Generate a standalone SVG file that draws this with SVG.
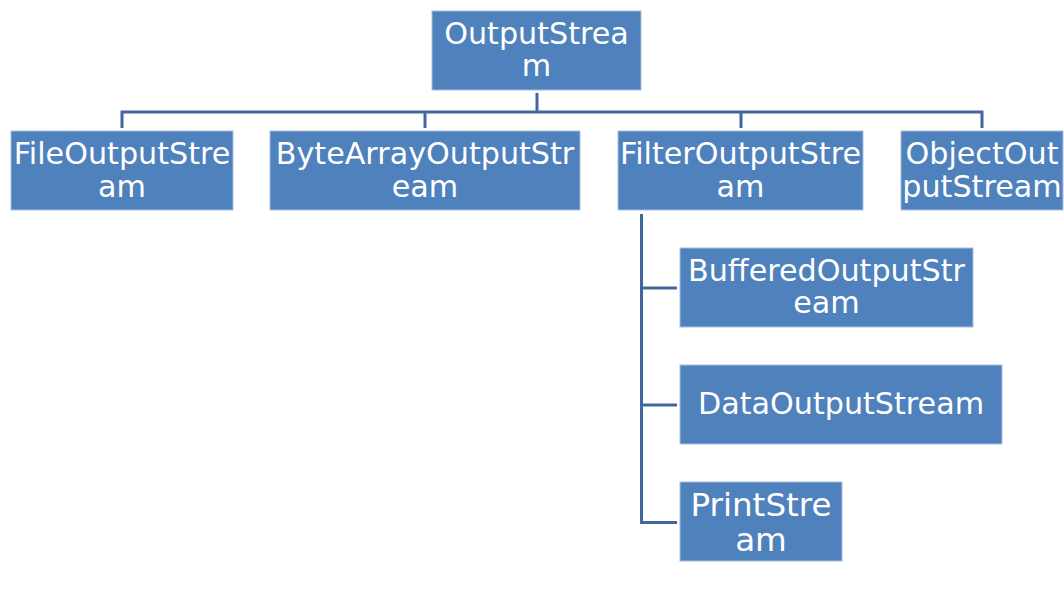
<svg xmlns="http://www.w3.org/2000/svg" width="1064" height="591" viewBox="0 0 1064 591">
<style>
.box{fill:#4f81bd;stroke:#a7bfe0;stroke-width:1}
.t{font-family:"DejaVu Sans",Verdana,sans-serif;font-size:30.2px;fill:#ffffff;text-anchor:middle}
.big{font-size:32.6px}
.c{fill:none;stroke:#41689c;stroke-width:3}
</style>
<rect width="1064" height="591" fill="#ffffff"/>
<g id="connectors">
<path class="c" d="M537 93V112M122 128V112H982V128M425 112V128M741 112V128"/>
<path class="c" d="M641.5 214V522.5H677M641.5 288H677M641.5 405H677"/>
</g>
<g id="outputstream">
<rect class="box" x="432" y="11" width="209" height="79"/>
<text class="t" x="536.5" y="43.5">OutputStrea</text>
<text class="t" x="536.5" y="75.5">m</text>
</g>
<g id="fileoutputstream">
<rect class="box" x="11" y="131" width="222" height="79"/>
<text class="t" x="122" y="164">FileOutputStre</text>
<text class="t" x="122" y="196.5">am</text>
</g>
<g id="bytearrayoutputstream">
<rect class="box" x="270" y="131" width="310" height="79"/>
<text class="t" x="425" y="164">ByteArrayOutputStr</text>
<text class="t" x="425" y="196.5">eam</text>
</g>
<g id="filteroutputstream">
<rect class="box" x="618" y="131" width="245" height="79"/>
<text class="t" x="740.5" y="164">FilterOutputStre</text>
<text class="t" x="740.5" y="196.5">am</text>
</g>
<g id="objectoutputstream">
<rect class="box" x="901" y="131" width="162" height="79"/>
<text class="t" x="982" y="164">ObjectOut</text>
<text class="t" x="982" y="196.5">putStream</text>
</g>
<g id="bufferedoutputstream">
<rect class="box" x="680" y="248" width="293" height="79"/>
<text class="t" x="826.5" y="280.5">BufferedOutputStr</text>
<text class="t" x="826.5" y="313">eam</text>
</g>
<g id="dataoutputstream">
<rect class="box" x="680" y="365" width="322" height="79"/>
<text class="t" x="841" y="414">DataOutputStream</text>
</g>
<g id="printstream">
<rect class="box" x="680" y="482" width="162" height="79"/>
<text class="t big" x="761" y="515.5">PrintStre</text>
<text class="t big" x="761" y="550.5">am</text>
</g>
</svg>
